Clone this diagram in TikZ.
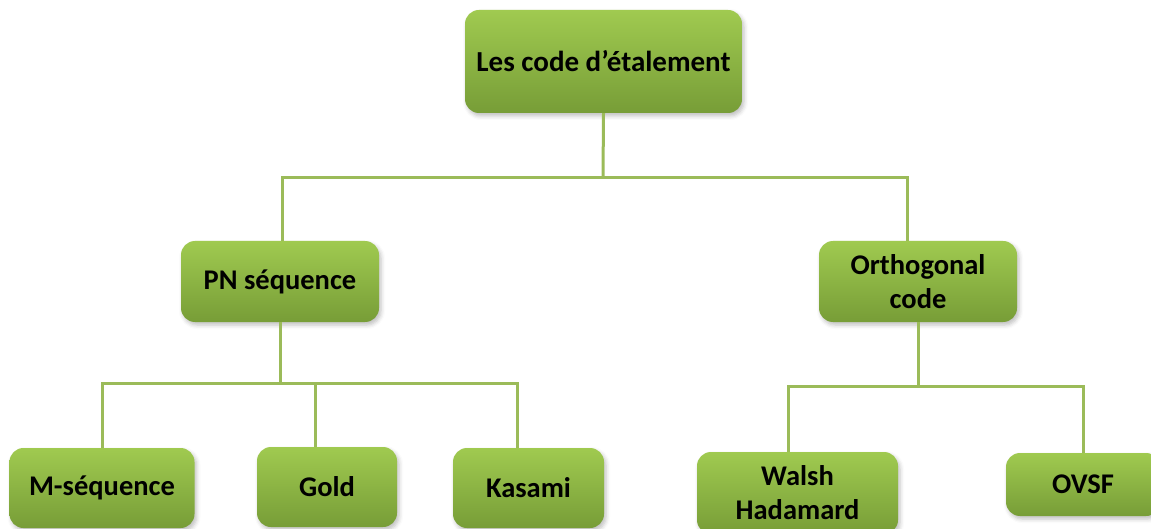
\documentclass[tikz,border=0pt]{standalone}
\usepackage{fontspec}
\setmainfont{Carlito}
\usetikzlibrary{shadows.blur}
\definecolor{gtop}{HTML}{A0CA50}
\definecolor{gbot}{HTML}{779D37}
\definecolor{lnk}{HTML}{9BBB59}
\tikzset{
  box/.style={rounded corners=14pt, top color=gtop, bottom color=gbot, draw=none,
    blur shadow={shadow xshift=2pt, shadow yshift=-3pt, shadow opacity=25, shadow blur radius=4pt},
    text=black, align=center, inner sep=0pt,
    font=\fontsize{28.5}{34}\selectfont\bfseries},
  conn/.style={draw=lnk, line width=3pt}
}
\begin{document}
\begin{tikzpicture}[x=1pt,y=-1pt]
\useasboundingbox (0,0) rectangle (1151,529);
\node[box, minimum width=277pt, minimum height=103pt, font=\fontsize{29}{34}\selectfont\bfseries] (top) at (603.5,61.5) {Les code d’étalement};
\node[box, minimum width=198pt, minimum height=81pt] (pn) at (280,281.5) {PN séquence};
\node[box, minimum width=198pt, minimum height=81pt] (orth) at (918,281.5) {Orthogonal\\code};
\node[box, minimum width=185pt, minimum height=80pt] (mseq) at (102,488) {M-séquence};
\node[box, minimum width=140pt, minimum height=80pt] (gold) at (327,487) {Gold};
\node[box, minimum width=151pt, minimum height=80pt] (kasami) at (528.5,488) {Kasami};
\node[box, minimum width=201pt, minimum height=82pt] (walsh) at (797.5,493) {Walsh\\Hadamard};
\node[box, minimum width=154pt, minimum height=63pt] (ovsf) at (1083,484.5) {OVSF};
\coordinate (hubA) at (603,178);
\coordinate (hubB) at (280,383);
\coordinate (hubC) at (918,386);
\draw[conn] (top.south) -- (hubA);
\draw[conn] ([xshift=2pt]pn.north) |- (hubA) -| ([xshift=-11pt]orth.north);
\draw[conn] (pn.south) -- (hubB);
\draw[conn] (mseq.north) |- (hubB) -| ([xshift=-11.5pt]kasami.north);
\draw[conn] ([xshift=-12pt]gold.north) -- ([xshift=-12pt]gold.north |- hubB);
\draw[conn] (orth.south) -- (hubC);
\draw[conn] ([xshift=-9pt]walsh.north) |- (hubC) -| (ovsf.north);
\end{tikzpicture}
\end{document}
